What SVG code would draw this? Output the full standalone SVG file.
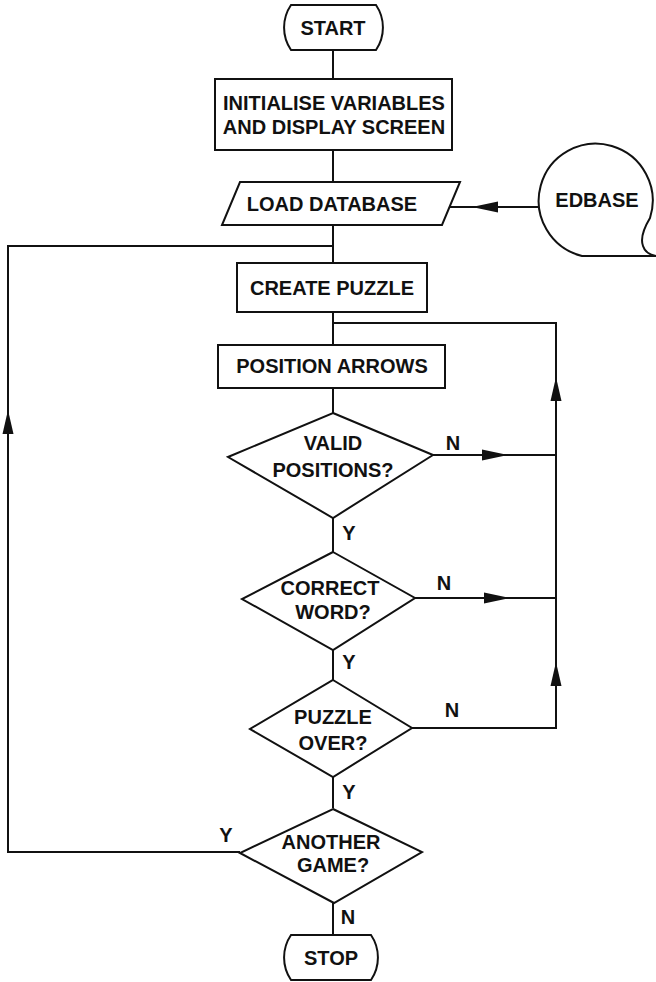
<svg xmlns="http://www.w3.org/2000/svg" width="656" height="982" viewBox="0 0 656 982">
  <defs>
    <style>
      .shape { fill: #ffffff; stroke: #111; stroke-width: 2; stroke-linejoin: miter; }
      .wire { fill: none; stroke: #111; stroke-width: 2; }
      .head { fill: #111; stroke: none; }
      text { font-family: "Liberation Sans", Arial, Helvetica, sans-serif; font-weight: bold; font-size: 20px; fill: #111; text-anchor: middle; }
    </style>
  </defs>
  <rect width="656" height="982" fill="#ffffff"/>

  <!-- connectors -->
  <g id="connectors">
    <!-- main spine -->
    <path class="wire" d="M333 50 V79 M333 150 V182 M333 225 V263 M333 312 V345 M333 388 V413 M333 518 V552 M333 650 V680 M333 777 V808 M333 903 V935"/>
    <!-- EDBASE into LOAD DATABASE -->
    <path class="wire" d="M538 207 H449"/>
    <polygon class="head" points="472,207 498,201.5 498,212.5"/>
    <!-- right-hand return loop -->
    <path class="wire" d="M433 455 H556 M415 598 H556 M412 728 H556 V323 H333"/>
    <polygon class="head" points="508,455 482,449.5 482,460.5"/>
    <polygon class="head" points="510,598 484,592.5 484,603.5"/>
    <polygon class="head" points="556,377 550.5,401 561.5,401"/>
    <polygon class="head" points="556,662 550.5,686 561.5,686"/>
    <!-- left-hand loop for another game -->
    <path class="wire" d="M240 852 H8 V246 H333"/>
    <polygon class="head" points="8,410 2.5,434 13.5,434"/>
    <!-- branch labels -->
    <text x="453" y="450">N</text>
    <text x="349" y="540">Y</text>
    <text x="444" y="590">N</text>
    <text x="349" y="669">Y</text>
    <text x="452" y="717">N</text>
    <text x="349" y="799">Y</text>
    <text x="226" y="842">Y</text>
    <text x="348" y="924">N</text>
  </g>

  <g id="start">
    <path class="shape" d="M291 5 H376 A 40 40 0 0 1 376 50 H291 A 40 40 0 0 1 291 5 Z"/>
    <text x="333" y="35">START</text>
  </g>

  <g id="init">
    <rect class="shape" x="215" y="79" width="237" height="71"/>
    <text x="334" y="110">INITIALISE VARIABLES</text>
    <text x="334" y="134">AND DISPLAY SCREEN</text>
  </g>

  <g id="load-database">
    <polygon class="shape" points="240,182 460,182 442,225 222,225"/>
    <text x="332" y="211">LOAD DATABASE</text>
  </g>

  <g id="edbase">
    <path class="shape" d="M582 256 A 57 57 0 1 1 650 218 C 644 228 640 238 643 246 C 645 252 650 255 656 256 Z"/>
    <text x="597" y="207">EDBASE</text>
  </g>

  <g id="create-puzzle">
    <rect class="shape" x="237" y="263" width="190" height="49"/>
    <text x="332" y="295">CREATE PUZZLE</text>
  </g>

  <g id="position-arrows">
    <rect class="shape" x="218" y="345" width="227" height="43"/>
    <text x="332" y="373">POSITION ARROWS</text>
  </g>

  <g id="valid-positions">
    <polygon class="shape" points="333,413 433,455 333,518 228,457"/>
    <text x="333" y="450">VALID</text>
    <text x="333" y="477">POSITIONS?</text>
  </g>

  <g id="correct-word">
    <polygon class="shape" points="333,552 415,598 333,650 242,599"/>
    <text x="330" y="595">CORRECT</text>
    <text x="333" y="619">WORD?</text>
  </g>

  <g id="puzzle-over">
    <polygon class="shape" points="333,680 412,728 333,777 250,729"/>
    <text x="333" y="724">PUZZLE</text>
    <text x="333" y="750">OVER?</text>
  </g>

  <g id="another-game">
    <polygon class="shape" points="333,809 422,852 334,903 240,853"/>
    <text x="331" y="849">ANOTHER</text>
    <text x="333" y="872">GAME?</text>
  </g>

  <g id="stop">
    <path class="shape" d="M291 935 H371 A 40 40 0 0 1 371 980 H291 A 40 40 0 0 1 291 935 Z"/>
    <text x="331" y="965">STOP</text>
  </g>
</svg>
